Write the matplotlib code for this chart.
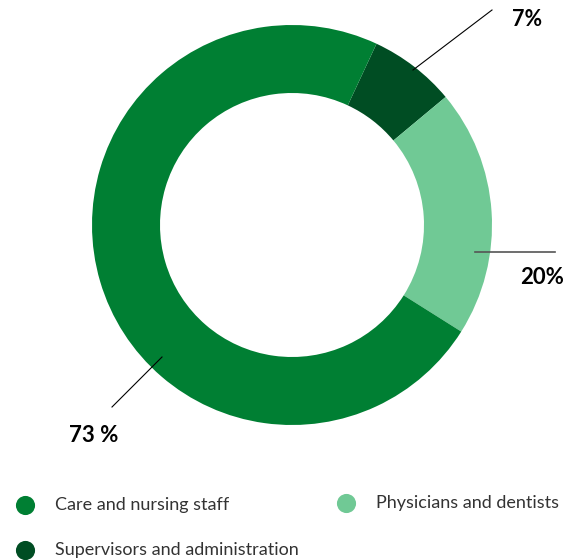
import matplotlib.pyplot as plt

# share of staff by group
groups = ["Supervisors and administration", "Physicians and dentists", "Care and nursing staff"]
shares = [7, 20, 73]
labels = ["7%", "20%", "73 %"]
colors = ["#004d23", "#70c995", "#007f33"]

W, H = 581, 560

fig = plt.figure(figsize=(W / 100, H / 100), dpi=100)
ax = fig.add_axes([0, 0, 1, 1])

plt.rcParams["font.family"] = ["Lato", "DejaVu Sans"]

ax.pie(shares, colors=colors, center=(292, H - 225), radius=200,
       startangle=65, counterclock=False,
       wedgeprops=dict(width=68, linewidth=0), frame=True)
ax.set_xlim(0, W)
ax.set_ylim(0, H)
ax.set_aspect("equal")
ax.axis("off")

# leader lines and value labels
ax.plot([413, 492], [H - 70, H - 10], color="black", lw=0.8)
ax.text(527, H - 20, labels[0], fontsize=15.5, fontweight="bold", ha="center", va="center")

ax.plot([475, 555], [H - 252, H - 252], color="#555555", lw=1.2)
ax.text(542, H - 277, labels[1], fontsize=16, fontweight="bold", ha="center", va="center")

ax.plot([162, 112], [H - 357, H - 407], color="black", lw=0.8)
ax.text(94, H - 436, labels[2], fontsize=16, fontweight="bold", ha="center", va="center")

# legend
legend_pos = {
    "Care and nursing staff": (25, 505),
    "Physicians and dentists": (346, 503),
    "Supervisors and administration": (25, 550),
}
for g, c in zip(groups, colors):
    x, y = legend_pos[g]
    ax.scatter([x], [H - y], s=190, color=c, linewidths=0)
    ax.text(x + 30, H - y, g, fontsize=13, color="#333333", va="center", ha="left")

fig.savefig("out.png", dpi=100)
